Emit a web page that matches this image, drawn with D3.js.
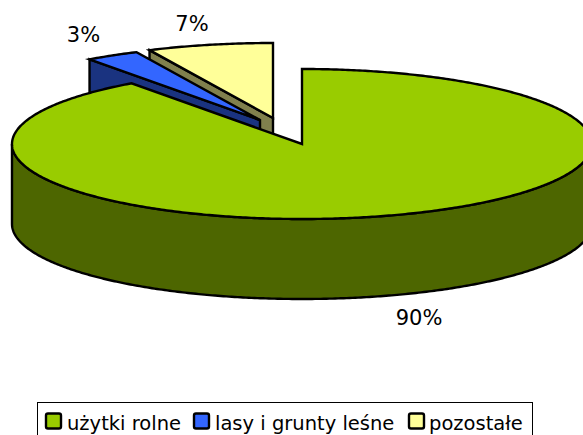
<!DOCTYPE html>
<html><head><meta charset="utf-8">
<script src="https://cdn.jsdelivr.net/npm/d3@7"></script>
<style>html,body{margin:0;padding:0;background:#fff;overflow:hidden}svg{display:block}text{font-family:"DejaVu Sans";fill:#000}</style>
</head><body><svg id="c" width="583" height="435"></svg>
<script>
const categories = ["użytki rolne","lasy i grunty leśne","pozostałe"];
const values = [90,3,7];
const labels = ["90%","3%","7%"];
const topColors = ["#99CC00","#3366FF","#FFFF99"];
const sideColors = ["#4D6600","#1A3380","#80804D"];
const centers = [[302,144],[260,120],[273,118]];
const labelPos = [[419,325],[83.5,42],[192,31]];
const rx = 290, ry = 75, depth = 80, lw = 2.4;

const svg = d3.select("#c");
const arcs = d3.pie().sort(null).value(d=>d).startAngle(0).endAngle(2*Math.PI)(values);
const lineGen = d3.line();
function scales(i){
  const [cx,cy]=centers[i];
  return {
    x:d3.scaleLinear().domain([-1,1]).range([cx-rx,cx+rx]),
    y:d3.scaleLinear().domain([-1,1]).range([cy-ry,cy+ry])
  };
}
function pt(s,a,dy=0){return [s.x(Math.sin(a)),s.y(-Math.cos(a))+dy];}
function arcPts(s,a0,a1,dy=0){
  const n=Math.max(2,Math.ceil(Math.abs(a1-a0)/0.01));
  return d3.range(n+1).map(k=>pt(s,a0+(a1-a0)*k/n,dy));
}
function draw(d,col){
  svg.append("path").attr("d",d).attr("fill",col).attr("stroke","#000")
    .attr("stroke-width",lw).attr("stroke-linejoin","miter");
}
[2,1,0].forEach(i=>{
  const s=scales(i), a=arcs[i], apex=[centers[i][0],centers[i][1]];
  if(i===0){
    const top=arcPts(s,Math.PI/2,3*Math.PI/2), bot=arcPts(s,3*Math.PI/2,Math.PI/2,depth);
    draw(lineGen(top.concat(bot))+"Z",sideColors[i]);
  } else {
    const p=pt(s,a.startAngle), q=[apex[0],apex[1]+depth], r=[p[0],p[1]+depth];
    draw(lineGen([p,apex,q,r])+"Z",sideColors[i]);
  }
  draw(lineGen([apex].concat(arcPts(s,a.startAngle,a.endAngle)))+"Z",topColors[i]);
});
labels.forEach((t,i)=>svg.append("text").attr("x",labelPos[i][0]).attr("y",labelPos[i][1])
  .attr("text-anchor","middle").attr("font-size",21).text(t));

const lg=svg.append("g");
lg.append("rect").attr("x",37.5).attr("y",402.5).attr("width",495).attr("height",42)
  .attr("fill","#fff").attr("stroke","#000").attr("stroke-width",1);
const keyX=[46,194,409], textX=[67,215,429];
categories.forEach((c,i)=>{
  lg.append("rect").attr("x",keyX[i]).attr("y",413.5).attr("width",15).attr("height",15).attr("rx",2)
    .attr("fill",topColors[i]).attr("stroke","#000").attr("stroke-width",2.4);
  lg.append("text").attr("x",textX[i]).attr("y",430).attr("font-size",19.5).text(c);
});
</script></body></html>
